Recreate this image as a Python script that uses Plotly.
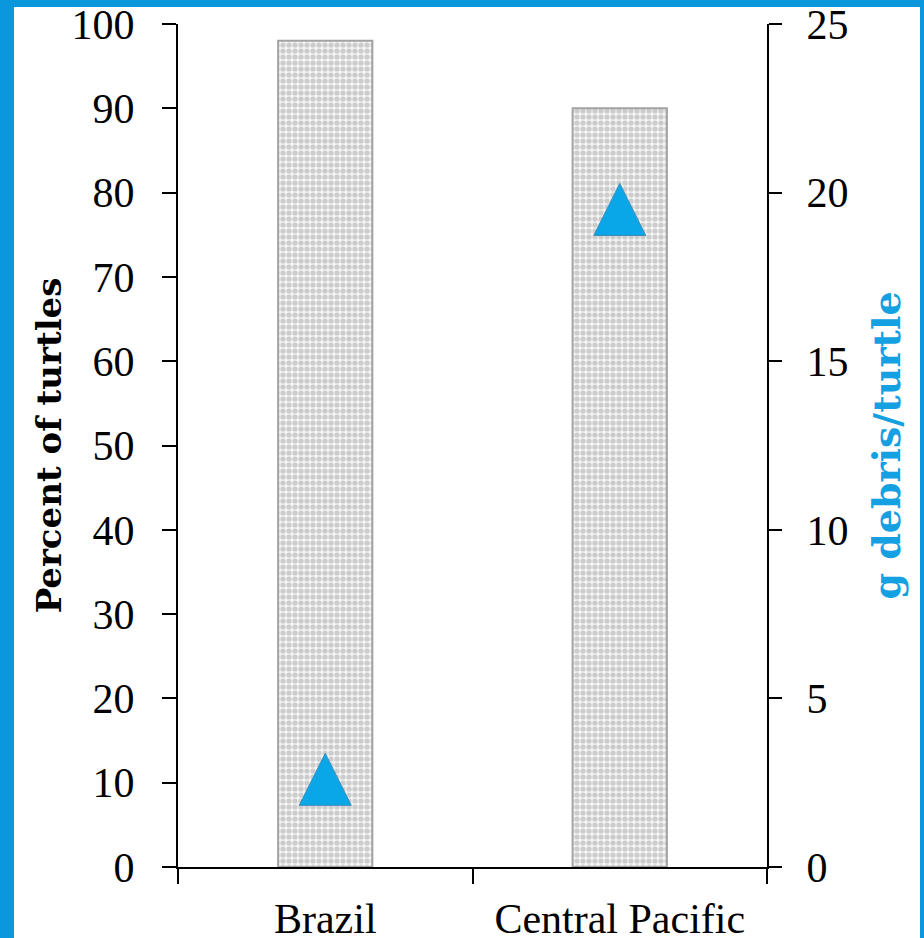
import plotly.graph_objects as go

# ---- data ----
regions = ["Brazil", "Central Pacific"]
percent_turtles = [98, 90]
debris_g_per_turtle = [2.6, 19.5]
left_ticks = [0, 10, 20, 30, 40, 50, 60, 70, 80, 90, 100]
right_ticks = [0, 5, 10, 15, 20, 25]

# ---- layout constants ----
W, H = 924, 938
ML, MR, MT, MB = 178, 157, 24, 71
PW, PH = W - ML - MR, H - MT - MB
BORDER = "#0b97dc"
TRI = "#09a6e8"
FONT = "Liberation Serif"
TITLE_FONT = "DejaVu Serif"

fig = go.Figure()
fig.add_trace(go.Bar(
    x=regions, y=percent_turtles, width=0.32, yaxis="y", showlegend=False,
    marker=dict(color="#f2f2f2", line=dict(color="#a3a3a3", width=2),
                pattern=dict(shape=".", fgcolor="#a4a4a4", bgcolor="#f4f4f4",
                             size=6, solidity=0.6)),
))
# arrow-down rotated 180 deg with a standoff of half its height gives an
# upward triangle centred on the data point
fig.add_trace(go.Scatter(
    x=regions, y=debris_g_per_turtle, mode="markers", yaxis="y2",
    showlegend=False, cliponaxis=False,
    marker=dict(symbol="arrow-down", angle=180, size=52, standoff=26,
                color=TRI, line=dict(color="#3d8db8", width=1)),
))

def px2paper_x(px):
    return (px - ML) / PW

def px2paper_y(py):
    return (H - MB - py) / PH

fig.add_shape(type="rect", xref="paper", yref="paper", layer="below",
              x0=px2paper_x(14), x1=px2paper_x(920),
              y0=px2paper_y(H + 5), y1=px2paper_y(7),
              fillcolor="white", line=dict(width=0))

tickfont = dict(family=FONT, size=42, color="black")
fig.update_layout(
    width=W, height=H,
    margin=dict(l=ML, r=MR, t=MT, b=MB, autoexpand=False),
    paper_bgcolor=BORDER, plot_bgcolor="rgba(0,0,0,0)",
    xaxis=dict(type="category", range=[-0.5, 1.5], showline=True,
               linecolor="black", linewidth=2, ticks="outside",
               tickson="boundaries", ticklen=15, tickwidth=2,
               tickcolor="black", tickfont=tickfont, showgrid=False,
               ticklabelstandoff=14),
    yaxis=dict(range=[0, 100], tickvals=left_ticks, showline=True,
               linecolor="black", linewidth=2, ticks="outside", ticklen=14,
               tickwidth=2, tickcolor="black", tickfont=tickfont,
               showgrid=False, zeroline=False, ticklabelstandoff=19,
               title=dict(text="Percent of turtles", standoff=0,
                          font=dict(family=TITLE_FONT, size=34, color="black",
                                    weight="bold"))),
    yaxis2=dict(range=[0, 25], tickvals=right_ticks, overlaying="y",
                side="right", showline=True, linecolor="black",
                linewidth=2, ticks="outside", ticklen=13, tickwidth=2,
                tickcolor="black", tickfont=tickfont, showgrid=False,
                zeroline=False, ticklabelstandoff=16,
                title=dict(text="g debris/turtle", standoff=26,
                           font=dict(family=TITLE_FONT, size=38,
                                     color="#15a0e2", weight="bold"))),
)

fig.write_html("out.html", config={"displayModeBar": False},
               post_script="document.body.style.margin='0px';")
